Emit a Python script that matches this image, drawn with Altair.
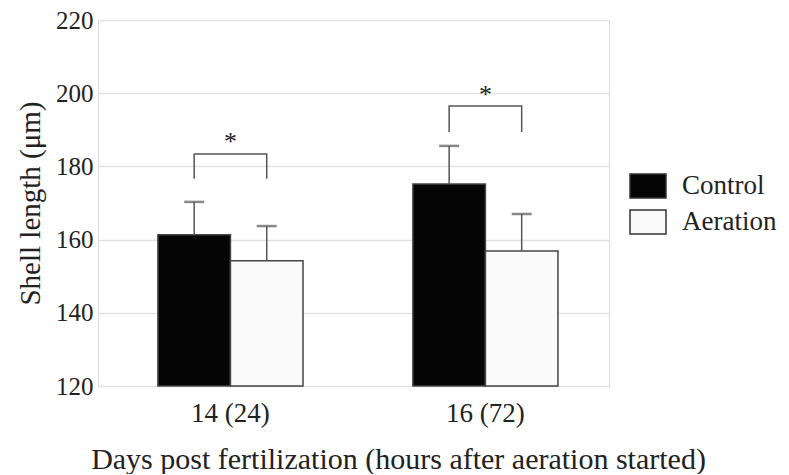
import altair as alt
import pandas as pd

groups = ["14 (24)", "16 (72)"]
series = ["Control", "Aeration"]
control_mean = [161.3, 175.2]
aeration_mean = [154.2, 156.9]
control_upper = [170.3, 185.6]
aeration_upper = [163.7, 167.0]
bracket_top = [183.4, 196.5]
bracket_foot = [176.6, 189.4]
star_y = [184.5, 197.3]
y_ticks = [120, 140, 160, 180, 200, 220]

rows = []
for i, g in enumerate(groups):
    rows.append(dict(group=g, series="Control", mean=control_mean[i], upper=control_upper[i]))
    rows.append(dict(group=g, series="Aeration", mean=aeration_mean[i], upper=aeration_upper[i]))
bars = pd.DataFrame(rows)

brows = []
for i, g in enumerate(groups):
    brows.append(dict(group=g, series="Control", y=bracket_foot[i], idx=0))
    brows.append(dict(group=g, series="Control", y=bracket_top[i], idx=1))
    brows.append(dict(group=g, series="Aeration", y=bracket_top[i], idx=2))
    brows.append(dict(group=g, series="Aeration", y=bracket_foot[i], idx=3))
brackets = pd.DataFrame(brows)

stars = pd.DataFrame(dict(group=groups, y=star_y, label=["*", "*"]))

FONT = "'Liberation Serif', 'Times New Roman', Times, serif"
GRAY = "#555555"
TXT = "#222222"

x_scale = alt.Scale(paddingInner=0.431, paddingOuter=0.2176, align=0.54)
x_enc = alt.X(
    "group:N", sort=groups, scale=x_scale,
    axis=alt.Axis(
        title="Days post fertilization (hours after aeration started)",
        labelAngle=0, ticks=False, domain=False, labelPadding=14,
        labelFont=FONT, labelFontSize=27, labelColor=TXT,
        titleFont=FONT, titleFontSize=30, titleFontWeight="normal",
        titleColor=TXT, titlePadding=18, titleX=300,
    ),
)
x_off = alt.XOffset("series:N", sort=series, scale=alt.Scale(paddingInner=0, paddingOuter=0))
y_scale = alt.Scale(domain=[120, 220], nice=False, zero=False)
y_axis = alt.Axis(
    title="Shell length (μm)", values=y_ticks, grid=True, gridColor="#e2e2e2",
    gridWidth=1.5, domain=False, ticks=False, labelPadding=5,
    labelFont=FONT, labelFontSize=25, labelColor=TXT,
    titleFont=FONT, titleFontSize=29, titleFontWeight="normal",
    titleColor=TXT, titlePadding=10,
)

bar = alt.Chart(bars).mark_bar(stroke="#444", strokeWidth=1.5).encode(
    x=x_enc, xOffset=x_off,
    y=alt.Y("mean:Q", scale=y_scale, axis=y_axis),
    y2=alt.datum(120),
    fill=alt.Fill(
        "series:N", sort=series,
        scale=alt.Scale(domain=series, range=["#050505", "#fafafa"]),
        legend=alt.Legend(
            title=None, orient="none", legendX=534, legendY=150, padding=0,
            labelFont=FONT, labelFontSize=27, labelColor=TXT,
            symbolType="M-1.2,-0.8H1.2V0.8H-1.2Z", symbolSize=900,
            symbolStrokeColor="#333", symbolStrokeWidth=1.5,
            rowPadding=5, labelOffset=18,
        ),
    ),
)

err = alt.Chart(bars).mark_rule(color=GRAY, strokeWidth=1.5).encode(
    x=alt.X("group:N", sort=groups), xOffset=x_off,
    y="mean:Q", y2="upper:Q",
)
cap = alt.Chart(bars).mark_tick(color=GRAY, size=20, thickness=2.5, orient="horizontal").encode(
    x=alt.X("group:N", sort=groups), xOffset=x_off, y="upper:Q",
)
br = alt.Chart(brackets).mark_line(color=GRAY, strokeWidth=1.5).encode(
    x=alt.X("group:N", sort=groups), xOffset=x_off, y="y:Q",
    detail="group:N", order="idx:Q",
)
star = alt.Chart(stars).mark_text(font=FONT, fontSize=26, color=TXT, baseline="alphabetic").encode(
    x=alt.X("group:N", sort=groups), y="y:Q", text="label:N",
)

chart = alt.layer(bar, err, cap, br, star).properties(
    width=511, height=366,
    padding={"left": 8, "top": 0, "right": 0, "bottom": 0},
).configure_view(stroke="#888", strokeWidth=1.5).configure(background="white")

chart.save("out.html", embed_options={"renderer": "svg", "actions": False})
